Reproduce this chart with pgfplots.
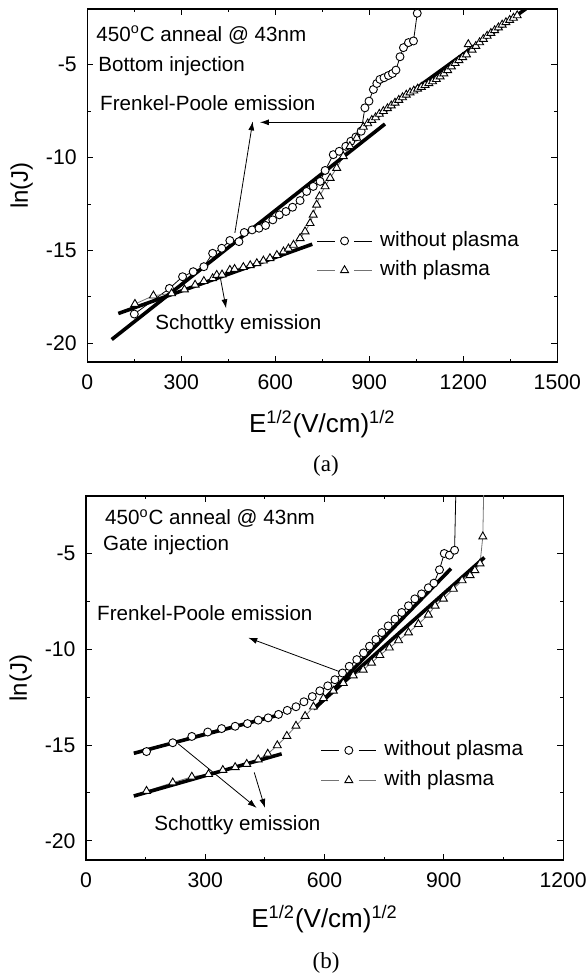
\documentclass[border=0pt]{standalone}
\usepackage{fontspec}
\setmainfont{Liberation Sans}
\newfontfamily\capfont{Liberation Serif}
\usepackage{pgfplots}
\pgfplotsset{compat=1.18}
\usetikzlibrary{arrows.meta}

\tikzset{
  note/.style={-{Latex[length=4.5pt,width=3pt]}, line width=0.4pt, black},
  ann/.style={anchor=base west, inner sep=0pt, font=\fontsize{10.3}{12}\selectfont},
}

\pgfplotsset{
  jvaxis/.style={
    scale only axis,
    axis line style={line width=0.6pt},
    tick align=inside,
    major tick length=3pt, minor tick length=1.7pt,
    every tick/.style={black, line width=0.5pt},
    minor x tick num=1, minor y tick num=1,
    ymin=-21, ymax=-2,
    ytick={-20,-15,-10,-5},
    /pgf/number format/assume math mode=true,
    /pgf/number format/1000 sep={},
    tick label style={font=\fontsize{10.6}{12}\selectfont},
    xticklabel style={yshift=-3pt},
    yticklabel style={xshift=-1.8pt},
    xlabel={E\textsuperscript{1/2}(V/cm)\textsuperscript{1/2}},
    ylabel={ln(J)},
    xlabel style={font=\fontsize{13}{15}\selectfont, at={(axis description cs:0.5,0)}, anchor=north, inner sep=0pt, yshift=-24pt},
    ylabel style={font=\fontsize{12}{14}\selectfont, inner sep=0pt},
    legend style={draw=none, fill=none, inner sep=0pt, anchor=north west,
      column sep=3.8pt, font=\fontsize{10.4}{12}\selectfont,
      nodes={inner sep=0pt, text height=7.5pt, text depth=2pt}},
    legend cell align=left,
    legend image code/.code={
      \draw[#1] (0pt,0pt) -- (8.8pt,0pt);
      \draw[#1] (18.6pt,0pt) -- (27.5pt,0pt);
      \draw[#1, only marks] plot coordinates {(13.7pt,0pt)};
    },
  },
  noplasma/.style={black, line width=0.4pt, mark=*, mark size=2pt, mark options={fill=white, draw=black, line width=0.45pt}},
  withplasma/.style={black!55, line width=0.4pt, mark=triangle*, mark size=2.3pt, mark options={fill=white, draw=black, line width=0.45pt}},
  fitline/.style={black, line width=1.8pt, forget plot},
}

\begin{document}
\begin{tikzpicture}
\useasboundingbox (0,0) rectangle (293pt,489.5pt);

% ---------------- (a) bottom injection ----------------
\begin{axis}[jvaxis,
  at={(43.65pt,308.5pt)}, anchor=south west,
  width=235pt, height=176.5pt,
  xmin=0, xmax=1500, xtick={0,300,...,1500},
  ylabel style={at={(axis description cs:-0.115,0.5)}, anchor=south},
  legend style={at={(axis cs:731,-13.95)}, row sep=5.2pt},
]
\addplot[noplasma] coordinates {
(150,-18.42) (262,-17.04) (304,-16.41) (338,-16.14) (372,-15.87) (400,-15.15)
(429,-14.88) (455,-14.46) (484,-14.52) (501,-14.03) (526,-13.89) (548,-13.80)
(569,-13.65) (592,-13.35) (613,-13.08) (634,-12.90) (655,-12.67) (679,-12.31)
(700,-11.82) (721,-11.55) (743,-11.28) (759,-10.69) (785,-9.84) (804,-9.66)
(825,-9.39) (841,-9.12) (857,-8.89) (874,-8.58) (886,-7.32) (899,-6.96)
(913,-6.33) (924,-6.01) (934,-5.79) (947,-5.70) (961,-5.58) (974,-5.47)
(985,-5.29) (998,-4.57) (1009,-4.08) (1025,-3.81) (1041,-3.72) (1053,-2.23)
};
\addlegendentry{without plasma}
\addplot[withplasma] coordinates {
(152,-17.88) (211,-17.43) (269,-17.31) (310,-17.10) (344,-16.85) (372,-16.65)
(400,-16.50) (413,-16.32) (430,-16.30) (455,-16.05) (470,-16.00) (498,-15.90)
(520,-15.80) (541,-15.69) (562,-15.55) (583,-15.42) (605,-15.25) (626,-15.06)
(642,-14.90) (658,-14.70) (679,-14.34) (695,-13.98) (711,-13.53) (721,-13.08)
(732,-12.54) (741,-12.09) (759,-11.55) (775,-11.10) (796,-10.56) (817,-9.93)
(838,-9.39) (860,-8.94) (881,-8.35) (895,-8.16) (908,-7.98) (920,-7.84)
(932,-7.65) (945,-7.50) (958,-7.35) (970,-7.20) (982,-7.05) (994,-6.90)
(1006,-6.76) (1018,-6.62) (1030,-6.50) (1042,-6.40) (1054,-6.30) (1066,-6.20)
(1078,-6.10) (1090,-6.00) (1102,-5.90) (1114,-5.78) (1126,-5.64) (1138,-5.48)
(1150,-5.30) (1162,-5.10) (1174,-4.92) (1186,-4.76) (1198,-4.60) (1210,-4.45)
(1216,-3.90) (1228,-4.20) (1240,-4.00) (1252,-3.80) (1264,-3.62) (1276,-3.45)
(1288,-3.30) (1300,-3.15) (1312,-3.00) (1324,-2.85) (1336,-2.72) (1348,-2.60)
(1360,-2.48) (1372,-2.35)
};
\addlegendentry{with plasma}
\addplot[fitline] coordinates {(78,-19.79) (950,-8.19)};
\addplot[fitline] coordinates {(865,-8.53) (1424,-1.69)};
\addplot[fitline] coordinates {(99,-18.39) (718,-14.66)};
\draw[note] (axis cs:471,-14.05) -- (axis cs:528,-8.05);
\draw[note] (axis cs:881,-8.10) -- (axis cs:551,-8.10);
\draw[note] (axis cs:424,-16.41) -- (axis cs:443,-18.11);
\node[ann] at (axis cs:28,-3.73) {450\textsuperscript{o}C anneal @ 43nm};
\node[ann] at (axis cs:34,-5.35) {Bottom injection};
\node[ann] at (axis cs:40,-7.45) {Frenkel-Poole emission};
\node[ann] at (axis cs:216,-19.25) {Schottky emission};
\end{axis}

% ---------------- (b) gate injection ----------------
\begin{axis}[jvaxis,
  at={(43.05pt,59.5pt)}, anchor=south west,
  width=238.5pt, height=182pt,
  xmin=0, xmax=1200, xtick={0,300,...,1200},
  xlabel style={yshift=1.5pt},
  ylabel style={at={(axis description cs:-0.113,0.5)}, anchor=south},
  legend style={at={(axis cs:590,-14.76)}, row sep=5.5pt},
]
\addplot[noplasma] coordinates {
(152,-15.34) (218,-14.88) (266,-14.55) (306,-14.32) (341,-14.14) (375,-14.02)
(406,-13.88) (433,-13.70) (458,-13.58) (484,-13.40) (506,-13.19) (528,-13.00)
(548,-12.74) (569,-12.47) (588,-12.17) (608,-11.91) (626,-11.59) (645,-11.24)
(662,-10.89) (681,-10.54) (698,-10.19) (713,-9.84) (729,-9.49) (744,-9.13)
(760,-8.78) (777,-8.43) (794,-8.08) (811,-7.73) (827,-7.37) (844,-7.11)
(861,-6.79) (875,-6.55) (889,-5.85) (901,-5.00) (914,-5.09) (927,-4.83)
(932,0)
};
\addlegendentry{without plasma}
\addplot[withplasma] coordinates {
(152,-17.40) (218,-16.96) (266,-16.66) (308,-16.52) (344,-16.31) (375,-16.16)
(404,-15.99) (433,-15.76) (457,-15.46) (481,-15.02) (505,-14.53) (528,-14.00)
(551,-13.49) (572,-13.00) (597,-12.56) (622,-12.17) (647,-11.77) (672,-11.37)
(697,-11.07) (718,-10.71) (739,-10.31) (763,-9.92) (786,-9.54) (811,-9.13)
(836,-8.69) (861,-8.20) (878,-7.73) (899,-7.37) (924,-6.85) (946,-6.41)
(966,-6.14) (978,-5.88) (991,-5.53) (998,-4.12) (1002,0)
};
\addlegendentry{with plasma}
\addplot[fitline] coordinates {(120,-15.43) (492,-13.39)};
\addplot[fitline] coordinates {(120,-17.66) (492,-15.46)};
\addplot[fitline] coordinates {(576,-13.09) (918,-5.79)};
\addplot[fitline] coordinates {(572,-13.12) (1002,-5.21)};
\draw[note] (axis cs:647,-11.24) -- (axis cs:408,-9.40);
\draw[note] (axis cs:232,-14.94) -- (axis cs:429,-18.28);
\draw[note] (axis cs:423,-16.43) -- (axis cs:450,-18.28);
\node[ann] at (axis cs:47,-3.51) {450\textsuperscript{o}C anneal @ 43nm};
\node[ann] at (axis cs:42,-4.83) {Gate injection};
\node[ann] at (axis cs:27,-8.52) {Frenkel-Poole emission};
\node[ann] at (axis cs:171,-19.45) {Schottky emission};
\end{axis}

\node[font=\capfont\fontsize{11.5}{13}\selectfont] at (163pt,256.5pt) {(a)};
\node[font=\capfont\fontsize{11.5}{13}\selectfont] at (163pt,8.2pt) {(b)};
\end{tikzpicture}
\end{document}
